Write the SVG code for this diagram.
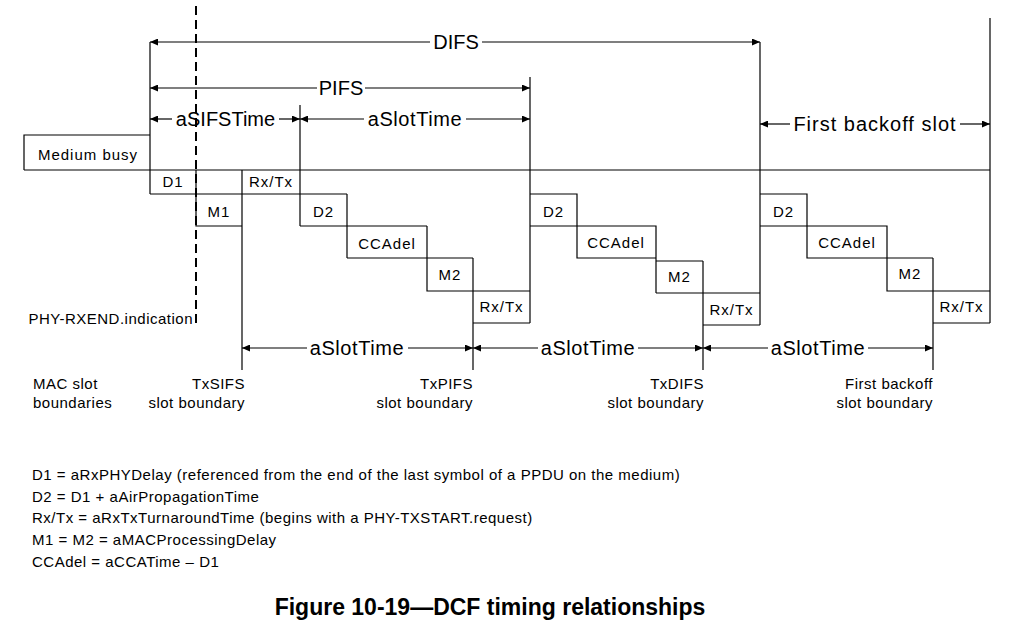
<svg xmlns="http://www.w3.org/2000/svg" width="1021" height="636" viewBox="0 0 1021 636">
<style>
.ln{stroke:#000;stroke-width:1.2;fill:none}
.ar{stroke:#000;stroke-width:1.2;fill:none}
.dash{stroke:#000;stroke-width:2;stroke-dasharray:9,5;fill:none}
text{font-family:"Liberation Sans",Arial,sans-serif;fill:#000}
.big{font-size:20px;text-anchor:middle;letter-spacing:0.6px}
.bx{font-size:15px;text-anchor:middle;letter-spacing:1px}
.sm{font-size:15px;letter-spacing:0.5px}
.end{text-anchor:end}
.leg{font-size:15px;letter-spacing:0.5px}
.title{font-size:23px;font-weight:bold;text-anchor:middle}
</style>
<defs>
<marker id="ah" viewBox="0 0 8 7" refX="8" refY="3.5" markerWidth="8" markerHeight="7" markerUnits="userSpaceOnUse" orient="auto-start-reverse"><path d="M0,0 L8,3.5 L0,7 z" fill="#000"/></marker>
</defs>

<g id="timeline">
<path class="ln" d="M24,170 H990"/>
</g>

<g id="medium-busy">
<path class="ln" d="M24,170 V135 H150"/>
<text class="bx" x="88" y="160">Medium busy</text>
</g>

<g id="boundaries">
<path class="ln" d="M150,42 V194"/>
<path class="ln" d="M242,170 V370"/>
<path class="ln" d="M300,105 V226"/>
<path class="ln" d="M473,258 V370"/>
<path class="ln" d="M530,77 V323"/>
<path class="ln" d="M703,261 V370"/>
<path class="ln" d="M760,42 V325"/>
<path class="ln" d="M933,258 V370"/>
<path class="ln" d="M990,18 V323"/>
</g>

<g id="phy-rxend">
<path class="dash" d="M196,6 V327"/>
<text class="sm end" x="193" y="324">PHY-RXEND.indication</text>
</g>

<g id="sifs-steps">
<path class="ln" d="M150,194 H347"/>
<path class="ln" d="M196,170 V226 H242"/>
<text class="bx" x="173" y="187">D1</text>
<text class="bx" x="219" y="217">M1</text>
<text class="bx" x="271" y="187">Rx/Tx</text>
</g>

<g id="pifs-steps">
<path class="ln" d="M300,226 H427"/>
<path class="ln" d="M347,194 V258"/>
<path class="ln" d="M347,258 H473"/>
<path class="ln" d="M427,226 V291 H530"/>
<path class="ln" d="M473,323 H530"/>
<text class="bx" x="323.5" y="216.5">D2</text>
<text class="bx" x="387" y="248.5">CCAdel</text>
<text class="bx" x="450" y="280">M2</text>
<text class="bx" x="501.5" y="312">Rx/Tx</text>
</g>

<g id="difs-steps">
<path class="ln" d="M530,194 H577 V258 H656"/>
<path class="ln" d="M530,226 H656 V293"/>
<path class="ln" d="M656,261 H703"/>
<path class="ln" d="M656,293 H760"/>
<path class="ln" d="M703,325 H760"/>
<text class="bx" x="553.5" y="216.5">D2</text>
<text class="bx" x="616" y="248">CCAdel</text>
<text class="bx" x="679.5" y="282">M2</text>
<text class="bx" x="731.5" y="315">Rx/Tx</text>
</g>

<g id="backoff-steps">
<path class="ln" d="M760,194 H807 V258 H933"/>
<path class="ln" d="M760,226 H887 V291 H990"/>
<path class="ln" d="M933,323 H990"/>
<text class="bx" x="783.5" y="216.5">D2</text>
<text class="bx" x="847" y="248">CCAdel</text>
<text class="bx" x="910" y="278.5">M2</text>
<text class="bx" x="961.5" y="312">Rx/Tx</text>
</g>

<g id="connectors">
<path class="ar" d="M150,42 H430" marker-start="url(#ah)"/>
<path class="ar" d="M482,42 H760" marker-end="url(#ah)"/>
<path class="ar" d="M150,88 H317" marker-start="url(#ah)"/>
<path class="ar" d="M365,88 H530" marker-end="url(#ah)"/>
<path class="ar" d="M150,119 H172" marker-start="url(#ah)"/>
<path class="ar" d="M279,119 H300" marker-end="url(#ah)"/>
<path class="ar" d="M300,119 H364" marker-start="url(#ah)"/>
<path class="ar" d="M466,119 H530" marker-end="url(#ah)"/>
<path class="ar" d="M760,124 H790" marker-start="url(#ah)"/>
<path class="ar" d="M960,124 H990" marker-end="url(#ah)"/>
<path class="ar" d="M242,348 H307" marker-start="url(#ah)"/>
<path class="ar" d="M408,348 H473" marker-end="url(#ah)"/>
<path class="ar" d="M473,348 H538" marker-start="url(#ah)"/>
<path class="ar" d="M638,348 H703" marker-end="url(#ah)"/>
<path class="ar" d="M703,348 H768" marker-start="url(#ah)"/>
<path class="ar" d="M868,348 H933" marker-end="url(#ah)"/>
</g>

<g id="interval-labels">
<text class="big" x="456" y="49" style="letter-spacing:0">DIFS</text>
<text class="big" x="341" y="95" style="letter-spacing:0">PIFS</text>
<text class="big" x="225.5" y="126" style="letter-spacing:0">aSIFSTime</text>
<text class="big" x="415" y="126">aSlotTime</text>
<text class="big" x="875" y="131" style="letter-spacing:1px">First backoff slot</text>
<text class="big" x="357" y="355">aSlotTime</text>
<text class="big" x="588" y="355">aSlotTime</text>
<text class="big" x="818" y="355">aSlotTime</text>
</g>

<g id="slot-labels">
<text class="sm" x="33" y="389">MAC slot</text>
<text class="sm" x="33" y="408">boundaries</text>
<text class="sm end" x="245" y="389">TxSIFS</text>
<text class="sm end" x="245" y="408">slot boundary</text>
<text class="sm end" x="473" y="389">TxPIFS</text>
<text class="sm end" x="473" y="408">slot boundary</text>
<text class="sm end" x="704" y="389">TxDIFS</text>
<text class="sm end" x="704" y="408">slot boundary</text>
<text class="sm end" x="933" y="389">First backoff</text>
<text class="sm end" x="933" y="408">slot boundary</text>
</g>

<g id="legend">
<text class="leg" x="32" y="480">D1 = aRxPHYDelay (referenced from the end of the last symbol of a PPDU on the medium)</text>
<text class="leg" x="32" y="501.7">D2 = D1 + aAirPropagationTime</text>
<text class="leg" x="32" y="523.4">Rx/Tx = aRxTxTurnaroundTime (begins with a PHY-TXSTART.request)</text>
<text class="leg" x="32" y="545.1">M1 = M2 = aMACProcessingDelay</text>
<text class="leg" x="32" y="566.8">CCAdel = aCCATime – D1</text>
</g>

<g id="caption">
<text class="title" x="490" y="615">Figure 10-19—DCF timing relationships</text>
</g>
</svg>
